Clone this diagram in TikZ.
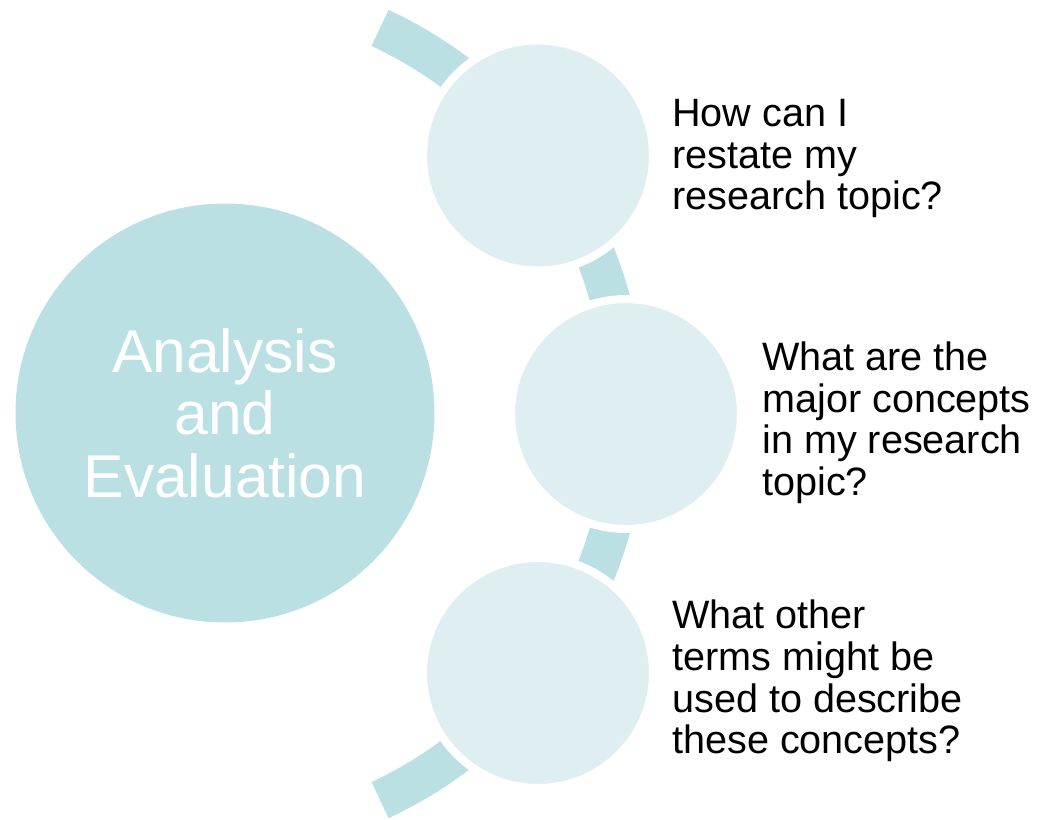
\documentclass[tikz,border=0pt]{standalone}
\usepackage{fontspec}
\setmainfont{Liberation Sans}
\definecolor{bandteal}{RGB}{187,224,227}
\definecolor{paleteal}{RGB}{223,239,241}

\begin{document}
\begin{tikzpicture}[x=0.75pt,y=-0.75pt,
  hub/.style={circle,fill=bandteal,minimum size=314.25pt,inner sep=0pt,text=white,align=center,font=\fontsize{45.4}{46.9}\selectfont},
  bubble/.style={circle,fill=paleteal,draw=white,line width=6pt,minimum size=172.5pt,inner sep=0pt},
  question/.style={anchor=north west,inner sep=0pt,align=left,font=\fontsize{29.7}{31.2}\selectfont}]
\useasboundingbox (0,0) rectangle (1039,820);
% centre of the curved band
\coordinate (C) at (200,414);
% curved band behind the bubbles
\draw[bandteal,line width=30pt] ([shift={(-65:426)}]C) arc[start angle=-65,end angle=65,radius=426];

% three bubbles on the band
\node[bubble] (q1) at (538,155.5) {};
\node[bubble] (q2) at (626,414) {};
\node[bubble] (q3) at (538,673) {};

% main circle
\node[hub] (hub) at (225,413) {Analysis\\and\\Evaluation};

% questions
\node[question] (a1) at (672,99) {How can I\\restate my\\research topic?};
\node[question] (a2) at (762,341.7) {What are the\\major concepts\\in my research\\topic?};
\node[question] (a3) at (672,600) {What other\\terms might be\\used to describe\\these concepts?};
\end{tikzpicture}
\end{document}
